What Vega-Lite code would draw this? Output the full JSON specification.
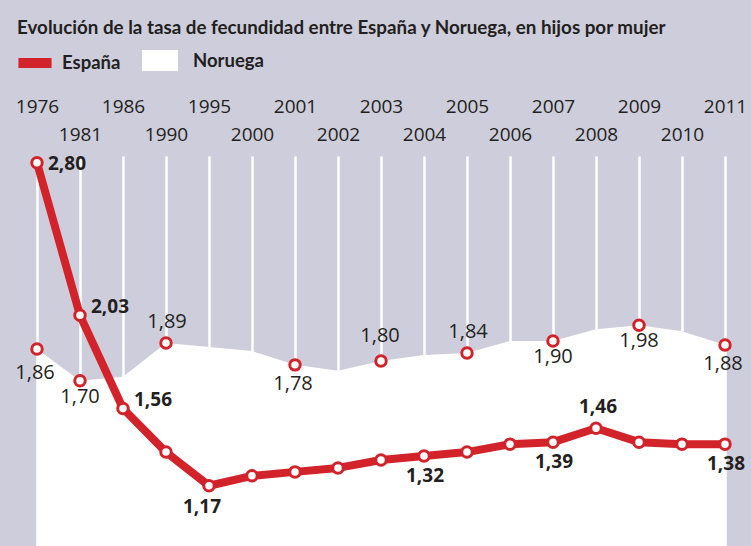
{
  "$schema": "https://vega.github.io/schema/vega-lite/v6.json",
  "width": 688,
  "height": 390,
  "autosize": {"type": "none"},
  "padding": {"left": 37, "top": 156, "right": 26, "bottom": 0},
  "background": "#cecddb",
  "title": {
    "text": "Evolución de la tasa de fecundidad entre España y Noruega, en hijos por mujer",
    "anchor": "start",
    "frame": "group",
    "dx": -20,
    "dy": -2,
    "offset": 0,
    "font": "Lato",
    "fontWeight": "bold",
    "fontSize": 18.8,
    "color": "#231f20"
  },
  "config": {
    "view": {"stroke": null},
    "locale": {"number": {"decimal": ",", "thousands": ".", "grouping": [3], "currency": ["", " €"]}}
  },
  "data": {
    "values": [
      {"year": 1976, "espana": 2.80, "noruega": 1.86},
      {"year": 1981, "espana": 2.03, "noruega": 1.70},
      {"year": 1986, "espana": 1.56, "noruega": 1.72},
      {"year": 1990, "espana": 1.34, "noruega": 1.89},
      {"year": 1995, "espana": 1.17, "noruega": 1.87},
      {"year": 2000, "espana": 1.22, "noruega": 1.85},
      {"year": 2001, "espana": 1.24, "noruega": 1.78},
      {"year": 2002, "espana": 1.26, "noruega": 1.75},
      {"year": 2003, "espana": 1.30, "noruega": 1.80},
      {"year": 2004, "espana": 1.32, "noruega": 1.83},
      {"year": 2005, "espana": 1.34, "noruega": 1.84},
      {"year": 2006, "espana": 1.38, "noruega": 1.90},
      {"year": 2007, "espana": 1.39, "noruega": 1.90},
      {"year": 2008, "espana": 1.46, "noruega": 1.96},
      {"year": 2009, "espana": 1.39, "noruega": 1.98},
      {"year": 2010, "espana": 1.38, "noruega": 1.95},
      {"year": 2011, "espana": 1.38, "noruega": 1.88}
    ]
  },
  "encoding": {
    "x": {
      "field": "year",
      "type": "ordinal",
      "scale": {"type": "point", "padding": 0},
      "axis": {
        "orient": "top",
        "title": null,
        "domain": false,
        "ticks": false,
        "tickSize": 0,
        "labelAngle": 0,
        "labelFont": "Open Sans",
        "labelFontSize": 19,
        "labelColor": "#231f20",
        "labelBaseline": "bottom",
        "labelPadding": 40,
        "labelLineHeight": 28,
        "labelOverlap": false,
        "labelExpr": "indexof([1976,1986,1995,2001,2003,2005,2007,2009,2011], datum.value) >= 0 ? datum.label : ['', datum.label]",
        "grid": true,
        "gridColor": "#ffffff",
        "gridWidth": 2.5,
        "gridOpacity": 1
      }
    }
  },
  "layer": [
    {
      "mark": {"type": "area", "opacity": 1},
      "encoding": {
        "y": {"field": "noruega", "type": "quantitative", "scale": {"domain": [0.866, 2.834], "zero": false, "nice": false}, "axis": null},
        "y2": {"datum": 0.866},
        "fill": {
          "datum": "Noruega",
          "scale": {"domain": ["Noruega"], "range": ["#ffffff"]},
          "legend": {
            "orient": "none",
            "legendX": 105,
            "legendY": -113.5,
            "direction": "horizontal",
            "title": null,
            "padding": 0,
            "labelFont": "Lato",
            "labelFontWeight": "bold",
            "labelFontSize": 18.5,
            "labelColor": "#231f20",
            "symbolType": "M-1,-0.583H1V0.583H-1Z",
            "symbolSize": 1296,
            "symbolStrokeWidth": 0,
            "symbolOpacity": 1,
            "labelOffset": 15
          }
        }
      }
    },
    {
      "mark": {"type": "line", "strokeWidth": 8, "strokeJoin": "round", "strokeCap": "round"},
      "encoding": {
        "y": {"field": "espana", "type": "quantitative"},
        "color": {
          "datum": "España",
          "scale": {"domain": ["España"], "range": ["#d2232a"]},
          "legend": {
            "orient": "none",
            "legendX": -25,
            "legendY": -116,
            "direction": "horizontal",
            "title": null,
            "padding": 0,
            "labelFont": "Lato",
            "labelFontWeight": "bold",
            "labelFontSize": 18.5,
            "labelColor": "#231f20",
            "symbolType": "M-0.92,0H0.92",
            "symbolSize": 1296,
            "symbolStrokeWidth": 10,
            "symbolOpacity": 1,
            "labelOffset": 4
          }
        }
      }
    },
    {
      "mark": {"type": "point", "shape": "circle", "filled": true, "fill": "#ffffff", "stroke": "#d2232a", "strokeWidth": 3, "size": 110, "opacity": 1},
      "encoding": {"y": {"field": "espana", "type": "quantitative"}}
    },
    {
      "transform": [{"filter": {"field": "year", "oneOf": [1976, 1981, 1990, 2001, 2003, 2005, 2007, 2009, 2011]}}],
      "mark": {"type": "point", "shape": "circle", "filled": true, "fill": "#ffffff", "stroke": "#d2232a", "strokeWidth": 3, "size": 110, "opacity": 1},
      "encoding": {"y": {"field": "noruega", "type": "quantitative"}}
    },
    {
      "transform": [{"filter": {"field": "year", "oneOf": [1976]}}],
      "mark": {"type": "text", "align": "left", "baseline": "middle", "dx": 11, "dy": 1, "font": "Open Sans", "fontWeight": "bold", "fontSize": 19, "color": "#231f20"},
      "encoding": {"y": {"field": "espana", "type": "quantitative"}, "text": {"field": "espana", "type": "quantitative", "format": ".2f"}}
    },
    {
      "transform": [{"filter": {"field": "year", "oneOf": [1981, 1986]}}],
      "mark": {"type": "text", "align": "left", "baseline": "middle", "dx": 11, "dy": -8, "font": "Open Sans", "fontWeight": "bold", "fontSize": 19, "color": "#231f20"},
      "encoding": {"y": {"field": "espana", "type": "quantitative"}, "text": {"field": "espana", "type": "quantitative", "format": ".2f"}}
    },
    {
      "transform": [{"filter": {"field": "year", "oneOf": [1995]}}],
      "mark": {"type": "text", "align": "center", "baseline": "middle", "dx": -7, "dy": 21, "font": "Open Sans", "fontWeight": "bold", "fontSize": 19, "color": "#231f20"},
      "encoding": {"y": {"field": "espana", "type": "quantitative"}, "text": {"field": "espana", "type": "quantitative", "format": ".2f"}}
    },
    {
      "transform": [{"filter": {"field": "year", "oneOf": [2004, 2007, 2011]}}],
      "mark": {"type": "text", "align": "center", "baseline": "middle", "dx": 1, "dy": 20, "font": "Open Sans", "fontWeight": "bold", "fontSize": 19, "color": "#231f20"},
      "encoding": {"y": {"field": "espana", "type": "quantitative"}, "text": {"field": "espana", "type": "quantitative", "format": ".2f"}}
    },
    {
      "transform": [{"filter": {"field": "year", "oneOf": [2008]}}],
      "mark": {"type": "text", "align": "center", "baseline": "middle", "dx": 2, "dy": -21, "font": "Open Sans", "fontWeight": "bold", "fontSize": 19, "color": "#231f20"},
      "encoding": {"y": {"field": "espana", "type": "quantitative"}, "text": {"field": "espana", "type": "quantitative", "format": ".2f"}}
    },
    {
      "transform": [{"filter": {"field": "year", "oneOf": [1976]}}],
      "mark": {"type": "text", "align": "center", "baseline": "middle", "dx": -2, "dy": 24, "font": "Open Sans", "fontSize": 20, "color": "#231f20"},
      "encoding": {"y": {"field": "noruega", "type": "quantitative"}, "text": {"field": "noruega", "type": "quantitative", "format": ".2f"}}
    },
    {
      "transform": [{"filter": {"field": "year", "oneOf": [1981, 2007, 2009]}}],
      "mark": {"type": "text", "align": "center", "baseline": "middle", "dx": 0, "dy": 16, "font": "Open Sans", "fontSize": 20, "color": "#231f20"},
      "encoding": {"y": {"field": "noruega", "type": "quantitative"}, "text": {"field": "noruega", "type": "quantitative", "format": ".2f"}}
    },
    {
      "transform": [{"filter": {"field": "year", "oneOf": [2001, 2011]}}],
      "mark": {"type": "text", "align": "center", "baseline": "middle", "dx": -2, "dy": 19, "font": "Open Sans", "fontSize": 20, "color": "#231f20"},
      "encoding": {"y": {"field": "noruega", "type": "quantitative"}, "text": {"field": "noruega", "type": "quantitative", "format": ".2f"}}
    },
    {
      "transform": [{"filter": {"field": "year", "oneOf": [1990, 2005]}}],
      "mark": {"type": "text", "align": "center", "baseline": "middle", "dx": 1, "dy": -21, "font": "Open Sans", "fontSize": 20, "color": "#231f20"},
      "encoding": {"y": {"field": "noruega", "type": "quantitative"}, "text": {"field": "noruega", "type": "quantitative", "format": ".2f"}}
    },
    {
      "transform": [{"filter": {"field": "year", "oneOf": [2003]}}],
      "mark": {"type": "text", "align": "center", "baseline": "middle", "dx": -1, "dy": -25, "font": "Open Sans", "fontSize": 20, "color": "#231f20"},
      "encoding": {"y": {"field": "noruega", "type": "quantitative"}, "text": {"field": "noruega", "type": "quantitative", "format": ".2f"}}
    }
  ]
}
